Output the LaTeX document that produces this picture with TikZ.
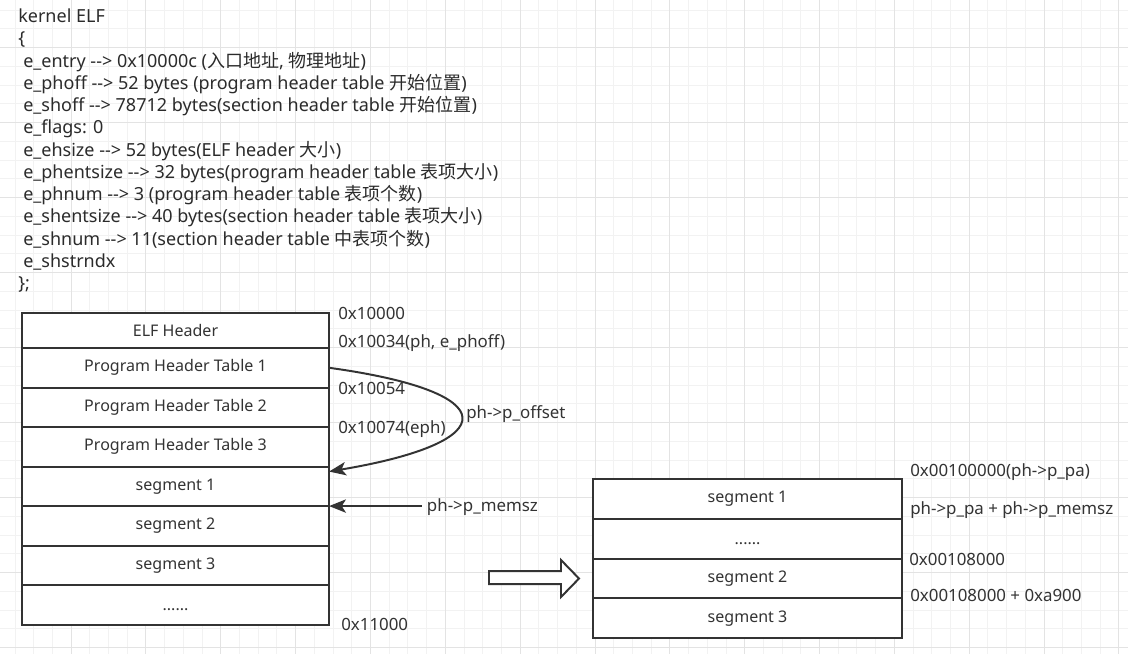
\documentclass[tikz,border=0pt]{standalone}
\usepackage{fontspec}
\setmainfont{Noto Sans}
\newfontfamily\cjk{Noto Sans CJK SC}
\usetikzlibrary{arrows.meta,calc,positioning}
\definecolor{gridminor}{gray}{0.95}
\definecolor{gridmajor}{gray}{0.89}
\definecolor{ink}{gray}{0.2}
\tikzset{
	box/.style={draw=ink, line width=1.4pt, fill=white, minimum width=7.675cm, minimum height=0.9875cm, inner sep=0pt, outer sep=0pt, text=ink, font=\fontsize{11.4}{13}\selectfont},
	rbox/.style={box, minimum width=7.725cm, minimum height=0.995cm},
	dots/.style={text height=1.4ex, text depth=0pt},
	lbl/.style={anchor=base west, inner sep=0pt, text=ink, font=\fontsize{12}{14}\selectfont},
	txt/.style={anchor=base west, inner sep=0pt, text=ink!85!black, font=\fontsize{12.8}{15}\selectfont},
	arrow/.style={draw=ink, line width=1.4pt, -{Stealth[length=12pt,width=9.5pt,inset=3pt]}},
}

\begin{document}
\begin{tikzpicture}[x=0.025cm, y=-0.025cm]
	%%%%% START %%%%%
	\useasboundingbox (0,0) rectangle (1128,654);
	\fill[white] (0,0) rectangle (1128,654);
	
	% background grid
	\foreach \k in {0,...,59} \draw[gridminor, line width=0.7pt] ({15+\k*18.71},0) -- ({15+\k*18.71},654);
	\foreach \k in {0,...,34} \draw[gridminor, line width=0.7pt] (0,{10+\k*18.75}) -- (1128,{10+\k*18.75});
	\foreach \k in {3,7,...,59} \draw[gridmajor, line width=0.7pt] ({15+\k*18.71},0) -- ({15+\k*18.71},654);
	\foreach \k in {2,6,...,34} \draw[gridmajor, line width=0.7pt] (0,{10+\k*18.75}) -- (1128,{10+\k*18.75});
	
	% ELF header fields
	\node[txt] (kernel) at (18,22.7) {kernel ELF};
	\node[txt] (lbrace) at (18,44.95) {\{};
	\node[txt] (entry) at (23,67.2) {e\_entry -{}-> 0x10000c ({\cjk 入口地址}, {\cjk 物理地址})};
	\node[txt] (phoff) at (23,89.45) {e\_phoff -{}-> 52 bytes (program header table {\cjk 开始位置})};
	\node[txt] (shoff) at (23,111.7) {e\_shoff -{}-> 78712 bytes(section header table {\cjk 开始位置})};
	\node[txt] (flags) at (23,133.95) {e\_flags: 0};
	\node[txt] (ehsize) at (23,156.2) {e\_ehsize -{}-> 52 bytes(ELF header {\cjk 大小})};
	\node[txt] (phentsize) at (23,178.45) {e\_phentsize -{}-> 32 bytes(program header table {\cjk 表项大小})};
	\node[txt] (phnum) at (23,200.7) {e\_phnum -{}-> 3 (program header table {\cjk 表项个数})};
	\node[txt] (shentsize) at (23,222.95) {e\_shentsize -{}-> 40 bytes(section header table {\cjk 表项大小})};
	\node[txt] (shnum) at (23,245.2) {e\_shnum -{}-> 11(section header table {\cjk 中表项个数})};
	\node[txt] (shstrndx) at (23,267.45) {e\_shstrndx};
	\node[txt] (rbrace) at (18,289.7) {\};};
	
	% file image
	\node[box, minimum height=0.875cm, anchor=north west] (elf) at (22,313) {ELF Header};
	\node[box, below=0pt of elf] (pht1) {Program Header Table 1};
	\node[box, below=0pt of pht1] (pht2) {Program Header Table 2};
	\node[box, below=0pt of pht2] (pht3) {Program Header Table 3};
	\node[box, below=0pt of pht3] (seg1) {segment 1};
	\node[box, below=0pt of seg1] (seg2) {segment 2};
	\node[box, below=0pt of seg2] (seg3) {segment 3};
	\node[box, dots, below=0pt of seg3] (rest) {......};
	
	\node[lbl] (a10000) at (338,319) {0x10000};
	\node[lbl] (a10034) at (338,347.3) {0x10034(ph, e\_phoff)};
	\node[lbl] (a10054) at (338,394) {0x10054};
	\node[lbl] (a10074) at (338,433.3) {0x10074(eph)};
	\node[lbl] (poffset) at (466,418.5) {ph->p\_offset};
	\node[lbl] (pmemsz) at (426.7,511.7) {ph->p\_memsz};
	\node[lbl] (a11000) at (341,630.7) {0x11000};
	
	\draw[arrow] (pht1.east) .. controls (505,392) and (505,442) .. ($(seg1.north east)+(0,5)$);
	\draw[arrow] ($(seg2.north east -| pmemsz.west)+(-5,0)$) -- (seg2.north east);
	
	% loaded into memory
	\draw[ink, line width=1.4pt, fill=white] (489,571) -- (561,571) -- (561,560) -- (579,578.5) -- (561,597) -- (561,584) -- (489,584) -- cycle;
	
	\node[rbox, anchor=north west] (mseg1) at (593,479) {segment 1};
	\node[rbox, dots, below=0pt of mseg1] (mgap) {......};
	\node[rbox, below=0pt of mgap] (mseg2) {segment 2};
	\node[rbox, below=0pt of mseg2] (mseg3) {segment 3};
	
	\node[lbl] (ppa) at (910,476.7) {0x00100000(ph->p\_pa)};
	\node[lbl] (ppaend) at (910,514) {ph->p\_pa + ph->p\_memsz};
	\node[lbl] (a108000) at (909,565) {0x00108000};
	\node[lbl] (a108end) at (910,601.7) {0x00108000 + 0xa900};
	
	%%%%% END %%%%%
\end{tikzpicture}
\end{document}
